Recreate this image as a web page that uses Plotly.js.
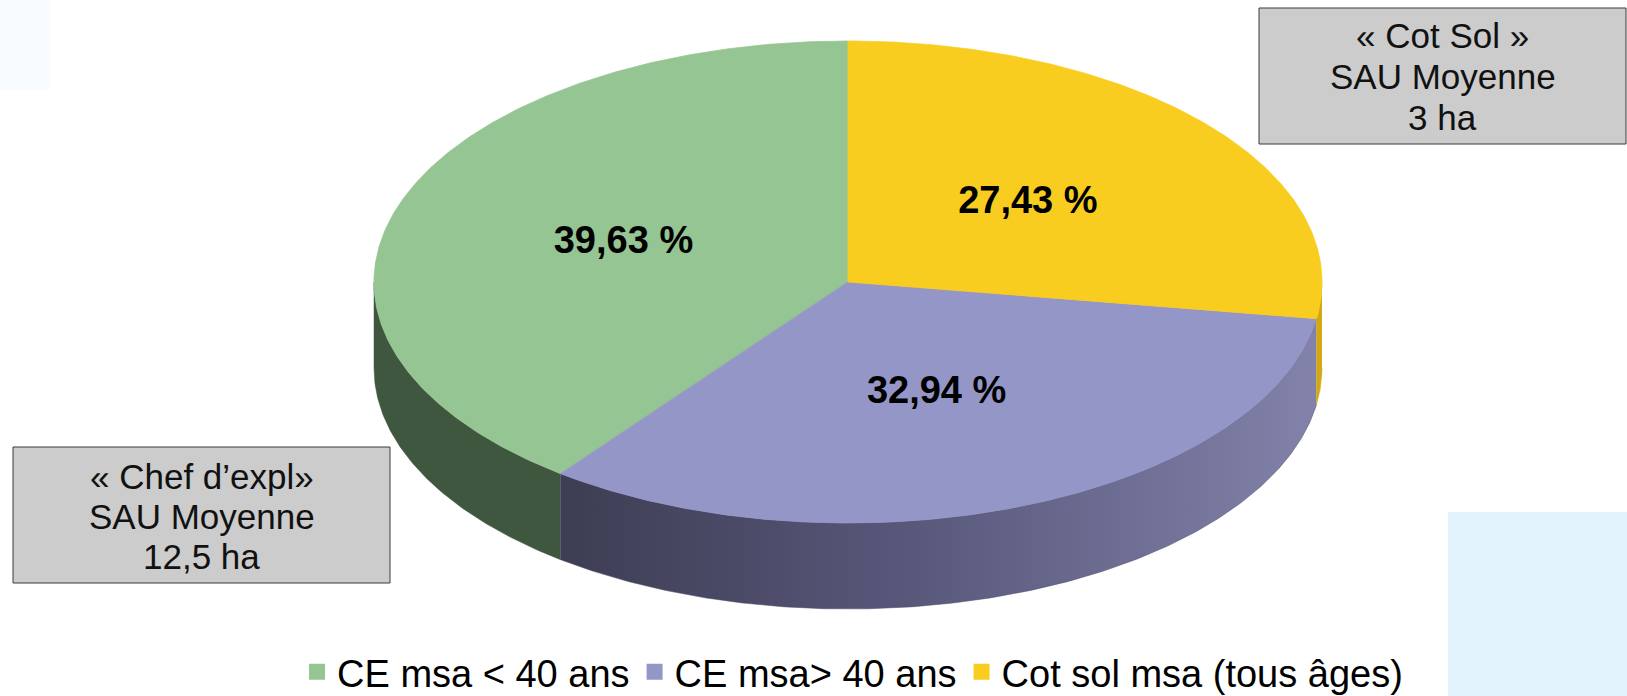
<!DOCTYPE html>
<html>
<head>
<meta charset="utf-8">
<script src="https://cdn.plot.ly/plotly-3.0.1.min.js"></script>
<style>
  body { margin: 0; background: #ffffff; }
  #chart { width: 1627px; height: 696px; }
</style>
</head>
<body>
<div id="chart"></div>
<script>
// data
const categories = ["CE msa < 40 ans", "CE msa> 40 ans", "Cot sol msa (tous âges)"]
const shares = [39.63, 32.94, 27.43]
const shareLabels = ["39,63 %", "32,94 %", "27,43 %"]
const boxLeftLines = ["« Chef d’expl»", "SAU Moyenne", "12,5 ha"]
const boxRightLines = ["« Cot Sol »", "SAU Moyenne", "3 ha"]

const topColors = ["#95c592", "#9596c8", "#f8cd1f"]
const sideColors = ["#3e573e", "#4a4a66", "#d2a817"]

// fake 3d pie geometry, in pixels (axes map 1 unit = 1 px)
const cx = 848, cy = 282, rx = 474, ry = 241, depth = 86

function pt(deg, dy) {
  const a = deg * Math.PI / 180
  return [cx + rx * Math.sin(a), cy + dy - ry * Math.cos(a)]
}

function arc(a0, a1, dy) {
  const n = Math.max(2, Math.ceil(Math.abs(a1 - a0) / 0.5) + 1)
  const out = []
  for (let i = 0; i < n; i++) out.push(pt(a0 + (a1 - a0) * i / (n - 1), dy))
  return out
}

const total = shares.reduce((s, v) => s + v, 0)
// slices run counterclockwise from 12 o'clock, angles kept clockwise from the top
let cum = 0
const slices = shares.map((v) => {
  const a1 = 360 - cum / total * 360
  cum += v
  const a0 = 360 - cum / total * 360
  return { a0, a1 }
})

const sideTraces = []
const topTraces = []
slices.forEach((s, i) => {
  const lo = Math.max(s.a0, 90), hi = Math.min(s.a1, 270)
  if (hi > lo) {
    const pts = arc(lo, hi, 0).concat(arc(hi, lo, depth))
    const tr = {
      x: pts.map((p) => p[0]),
      y: pts.map((p) => p[1]),
      type: "scatter",
      mode: "lines",
      fill: "toself",
      fillcolor: sideColors[i],
      line: { color: sideColors[i], width: 0.5 },
      hoverinfo: "skip",
      showlegend: false,
    }
    if (i === 1) {
      tr.fillgradient = {
        type: "horizontal",
        colorscale: [[0, "#3d3d53"], [0.45, "#57577a"], [1, "#8282aa"]],
      }
    }
    sideTraces.push(tr)
  }
  const face = [[cx, cy]].concat(arc(s.a0, s.a1, 0), [[cx, cy]])
  topTraces.push({
    x: face.map((p) => p[0]),
    y: face.map((p) => p[1]),
    type: "scatter",
    mode: "lines",
    fill: "toself",
    fillcolor: topColors[i],
    line: { color: topColors[i], width: 0.8 },
    hoverinfo: "skip",
    showlegend: false,
  })
})

const mids = slices.map((s) => pt((s.a0 + s.a1) / 2, 0))
const labelTrace = {
  x: mids.map((m) => cx + (m[0] - cx) * 0.5),
  y: mids.map((m) => cy + (m[1] - cy) * 0.5),
  text: shareLabels,
  type: "scatter",
  mode: "text",
  textfont: { family: "Liberation Sans, Arial, sans-serif", size: 38, color: "#000000", weight: "bold" },
  hoverinfo: "skip",
  showlegend: false,
}

const legendTraces = categories.map((name, i) => ({
  x: [null],
  y: [null],
  type: "scatter",
  mode: "markers",
  name: name,
  marker: { symbol: "square", size: 20, color: topColors[i] },
}))

// grey note boxes: frame as shape, one annotation per line
const textFont = { family: "Liberation Sans, Arial, sans-serif", size: 35, color: "#111111" }
const boxes = [
  { x0: 1259, x1: 1626, y0: 8, y1: 144, lines: boxRightLines, first: 35, step: 41 },
  { x0: 13, x1: 390, y0: 447, y1: 583, lines: boxLeftLines, first: 476, step: 40 },
]
const boxShapes = boxes.map((b) => ({
  type: "rect", xref: "x", yref: "y", x0: b.x0, x1: b.x1, y0: b.y0, y1: b.y1,
  fillcolor: "#cccccc", line: { color: "#3a3a3a", width: 1 }, layer: "above",
}))
const boxNotes = boxes.flatMap((b) => b.lines.map((t, k) => ({
  xref: "x", yref: "y", x: (b.x0 + b.x1) / 2, y: b.first + k * b.step,
  text: t, showarrow: false, font: textFont, xanchor: "center", yanchor: "middle",
})))

const layout = {
  width: 1627,
  height: 696,
  margin: { l: 0, r: 0, t: 0, b: 0, autoexpand: false },
  paper_bgcolor: "#ffffff",
  plot_bgcolor: "rgba(0,0,0,0)",
  xaxis: { range: [0, 1627], visible: false, fixedrange: true },
  yaxis: { range: [696, 0], visible: false, fixedrange: true },
  showlegend: true,
  legend: {
    orientation: "h",
    x: 0.524,
    xanchor: "center",
    y: -0.011,
    yanchor: "bottom",
    font: { family: "Liberation Sans, Arial, sans-serif", size: 38, color: "#000000" },
    itemclick: false,
    itemdoubleclick: false,
    bgcolor: "rgba(0,0,0,0)",
  },
  shapes: [
    { type: "rect", xref: "x", yref: "y", x0: 1448, x1: 1627, y0: 512, y1: 696, fillcolor: "#e3f3fc", line: { width: 0 }, layer: "below" },
    { type: "rect", xref: "x", yref: "y", x0: 0, x1: 50, y0: 0, y1: 90, fillcolor: "#f8fcfe", line: { width: 0 }, layer: "below" },
  ].concat(boxShapes),
  annotations: boxNotes,
}

Plotly.newPlot("chart", sideTraces.concat(topTraces, [labelTrace], legendTraces), layout, { staticPlot: true })
</script>
</body>
</html>
